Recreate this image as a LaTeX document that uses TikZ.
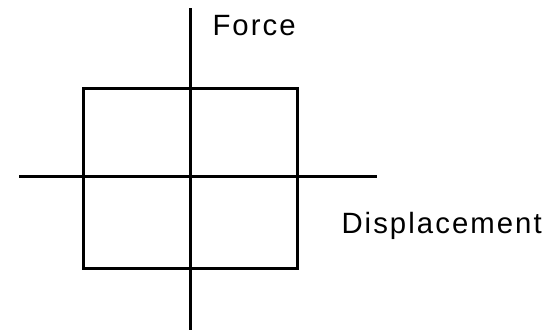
\documentclass[tikz,border=0pt]{standalone}
\usepackage{fontspec}
\setmainfont{Liberation Sans}[LetterSpace=7]
\usepackage{tikz}
\usetikzlibrary{positioning}

\begin{document}
\begin{tikzpicture}[x=0.75pt, y=0.75pt, line width=2.25pt]

\useasboundingbox (0,0) rectangle (552,330);

% Eixos
\coordinate (ftop) at (190,322);
\coordinate (fbot) at (190,0);
\coordinate (dleft) at (19,154);
\coordinate (dright) at (377,154);
\draw (ftop) -- (fbot);
\draw (dleft) -- (dright);

% Cicle
\coordinate (c1) at (83,62);
\coordinate (c2) at (297,242);
\draw (c1) rectangle (c2);

% Etiquetes
\node[anchor=base west, inner sep=0pt, font=\fontsize{22pt}{24pt}\selectfont] (force) at (211,295) {Force};
\node[anchor=base west, inner sep=0pt, font=\fontsize{22pt}{24pt}\selectfont] (displ) at (340,97) {Displacement};

\end{tikzpicture}
\end{document}
